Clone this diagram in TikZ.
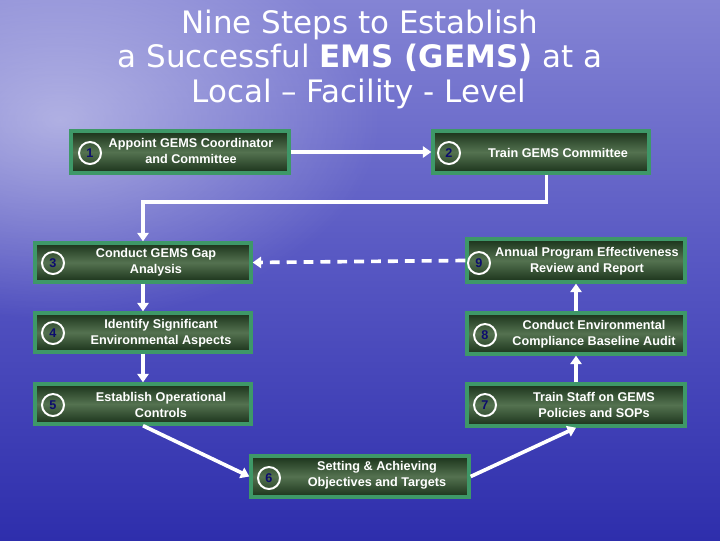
\documentclass[tikz,border=0pt]{standalone}
\usepackage{fontspec}
\setmainfont{Liberation Sans}
\newfontfamily\titlefont{DejaVu Sans}
\usetikzlibrary{positioning,arrows.meta,calc,fadings}

\definecolor{skytop}{RGB}{132,132,212}
\definecolor{skymid}{RGB}{86,86,194}
\definecolor{skybot}{RGB}{46,46,172}
\definecolor{boxdark}{RGB}{26,50,26}
\definecolor{boxmid}{RGB}{84,114,80}
\definecolor{boxedge}{RGB}{62,152,104}
\definecolor{numblue}{RGB}{12,12,110}
\tikzfading[name=glow, inner color=transparent!0, outer color=transparent!100]

\begin{document}
\begin{tikzpicture}[
    x=0.025cm, y=-0.025cm,
    stepbox/.style 2 args={draw=boxedge, line width=2.4pt, top color=boxdark, bottom color=boxdark,
        middle color=boxmid, minimum width=#1*0.025cm, minimum height=#2*0.025cm, inner sep=0pt},
    num/.style={circle, draw=white, line width=1.4pt, minimum size=0.55cm, inner sep=0pt,
        text=numblue, font=\bfseries\fontsize{9}{9}\selectfont},
    txt/.style={text=white, align=center, font=\bfseries\fontsize{9}{11.5}\selectfont},
    ttl/.style={text=white, anchor=base, font=\titlefont\fontsize{22}{24}\selectfont},
    flow/.style={draw=white, line width=2.6pt, -{Triangle[length=6pt,width=8pt]}},
    dashflow/.style={flow, dash pattern=on 7pt off 5pt},
]
\useasboundingbox (0,0) rectangle (720,540);
% sky
\shade[top color=skytop, bottom color=skybot, middle color=skymid] (0,0) rectangle (720,540);
\fill[white, opacity=0.45, path fading=glow] (60,120) ellipse (320 and 200);

% title
\node[ttl] (title1) at (360,33) {Nine Steps to Establish};
\node[ttl] (title2) at (360,67) {a Successful \textbf{EMS (GEMS)} at a};
\node[ttl] (title3) at (359,102) {Local – Facility - Level};

% steps
\node[stepbox={218}{42}] (s1) at (180,152) {};
\node[num] (n1) at (90,153) {1};
\node[txt] (t1) at (191,151) {Appoint GEMS Coordinator\\and Committee};

\node[stepbox={216}{42}] (s2) at (541,152) {};
\node[num] (n2) at (449,153) {2};
\node[txt] (t2) at (558,153) {Train GEMS Committee};

\node[stepbox={216}{39}] (s3) at (143,262.5) {};
\node[num] (n3) at (53,263) {3};
\node[txt] (t3) at (156,262) {Conduct GEMS Gap\\Analysis};

\node[stepbox={216}{39}] (s4) at (143,332.5) {};
\node[num] (n4) at (53,333) {4};
\node[txt] (t4) at (161,333) {Identify Significant\\Environmental Aspects};

\node[stepbox={216}{40}] (s5) at (143,404) {};
\node[num] (n5) at (53,405) {5};
\node[txt] (t5) at (161,405) {Establish Operational\\Controls};

\node[stepbox={218}{41}] (s6) at (360,476.5) {};
\node[num] (n6) at (269,478) {6};
\node[txt] (t6) at (377,475) {Setting \& Achieving\\Objectives and Targets};

\node[stepbox={218}{42}] (s7) at (576,405) {};
\node[num] (n7) at (485,405) {7};
\node[txt] (t7) at (594,405) {Train Staff on GEMS\\Policies and SOPs};

\node[stepbox={218}{41}] (s8) at (576,333.5) {};
\node[num] (n8) at (485,335) {8};
\node[txt] (t8) at (594,334) {Conduct Environmental\\Compliance Baseline Audit};

\node[stepbox={218}{43}] (s9) at (576,260.5) {};
\node[num] (n9) at (479,263) {9};
\node[txt] (t9) at (587,261) {Annual Program Effectiveness\\Review and Report};

% connectors
\coordinate (turn) at (143,202);
\draw[flow] (s1) -- (s2);
\draw[flow] ([xshift=4pt]s2.south) |- (turn) -- (s3.north);
\draw[flow] (s3) -- (s4);
\draw[flow] (s4) -- (s5);
\draw[flow] (s5.south) -- (s6.west);
\draw[flow] (s6.east) -- (s7.south);
\draw[flow] (s7) -- (s8);
\draw[flow] (s8) -- (s9);
\draw[dashflow] (s9.west) -- (s3.east);
\end{tikzpicture}
\end{document}
